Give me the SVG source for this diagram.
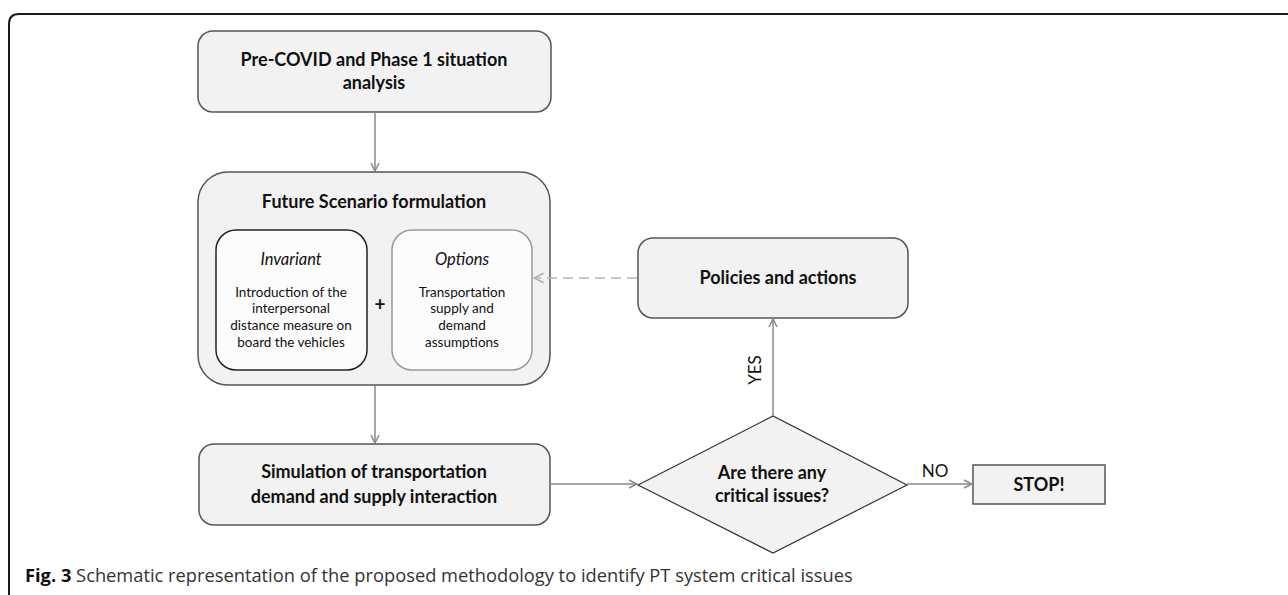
<svg xmlns="http://www.w3.org/2000/svg" width="1288" height="595" viewBox="0 0 1288 595">
  <defs>
    <marker id="arr" viewBox="0 0 10 10" refX="9" refY="5" markerWidth="10" markerHeight="10" markerUnits="userSpaceOnUse" orient="auto">
      <path d="M1,1 L9,5 L1,9" fill="none" stroke="#888" stroke-width="1.5"/>
    </marker>
    <marker id="arrL" viewBox="0 0 10 10" refX="9" refY="5" markerWidth="12" markerHeight="12" markerUnits="userSpaceOnUse" orient="auto">
      <path d="M1,1 L9,5 L1,9" fill="none" stroke="#b0b0b0" stroke-width="1.3"/>
    </marker>
  </defs>
  <style>
    .box { fill: #f2f2f2; stroke: #555; stroke-width: 1.5; }
    .inner { fill: #fcfcfc; stroke-width: 1.5; }
    .t { font-family: Lato, "Liberation Sans", sans-serif; fill: #111; text-anchor: middle; }
    .b { font-weight: bold; font-size: 18px; }
    .i { font-style: italic; font-size: 16.5px; }
    .s { font-size: 13.5px; }
    .lbl { font-size: 17px; }
    .conn { stroke: #888; stroke-width: 1.5; fill: none; marker-end: url(#arr); }
    .dash { stroke: #b8b8b8; stroke-width: 1.5; fill: none; stroke-dasharray: 10 6; marker-end: url(#arrL); }
  </style>
  <rect width="1288" height="595" fill="#fff"/>
  <path d="M9,595 V24 Q9,14 19,14 H1288" fill="none" stroke="#1a1a1a" stroke-width="2"/>

  <g id="precovid">
    <rect class="box" x="198" y="31" width="353" height="81" rx="15"/>
    <text class="t b" x="374" y="66">Pre-COVID and Phase 1 situation</text>
    <text class="t b" x="374" y="89">analysis</text>
  </g>

  <g id="future">
    <rect class="box" x="198" y="172" width="352" height="213" rx="30"/>
    <text class="t b" x="374" y="208">Future Scenario formulation</text>
  </g>

  <g id="invariant">
    <rect class="inner" x="216" y="230" width="151" height="140" rx="20" stroke="#222"/>
    <text class="t i" x="291" y="265">Invariant</text>
    <text class="t s" x="291" y="297">Introduction of the</text>
    <text class="t s" x="291" y="313">interpersonal</text>
    <text class="t s" x="291" y="330">distance measure on</text>
    <text class="t s" x="291" y="347">board the vehicles</text>
  </g>

  <g id="plus">
    <text class="t" x="380" y="311" font-size="19" font-weight="bold">+</text>
  </g>

  <g id="options">
    <rect class="inner" x="392" y="230" width="140" height="140" rx="20" stroke="#999"/>
    <text class="t i" x="462" y="265">Options</text>
    <text class="t s" x="462" y="297">Transportation</text>
    <text class="t s" x="462" y="313">supply and</text>
    <text class="t s" x="462" y="330">demand</text>
    <text class="t s" x="462" y="347">assumptions</text>
  </g>

  <g id="policies">
    <rect class="box" x="638" y="238" width="270" height="80" rx="15"/>
    <text class="t b" x="778" y="284">Policies and actions</text>
  </g>

  <g id="simulation">
    <rect class="box" x="199" y="444" width="351" height="81" rx="15"/>
    <text class="t b" x="374" y="478">Simulation of transportation</text>
    <text class="t b" x="374" y="503">demand and supply interaction</text>
  </g>

  <g id="decision">
    <polygon points="638,485 773,416 907,485 773,553" fill="#f2f2f2" stroke="#333" stroke-width="1.2"/>
    <text class="t b" x="772" y="479">Are there any</text>
    <text class="t b" x="772" y="502">critical issues?</text>
  </g>

  <g id="stop">
    <rect class="box" x="973" y="465" width="132" height="39" stroke="#444"/>
    <text class="t b" x="1039" y="491">STOP!</text>
  </g>

  <g id="connectors">
    <line class="conn" x1="375" y1="112" x2="375" y2="171"/>
    <line class="conn" x1="375" y1="386" x2="375" y2="443"/>
    <line class="conn" x1="550" y1="484" x2="637" y2="484"/>
    <line class="conn" x1="773" y1="416" x2="773" y2="319"/>
    <line class="conn" x1="907" y1="484" x2="972" y2="484"/>
    <line class="dash" x1="637" y1="278" x2="534" y2="278"/>
    <text class="t lbl" transform="translate(761,370) rotate(-90)">YES</text>
    <text class="t lbl" x="935" y="477">NO</text>
  </g>

  <text x="25" y="582" font-family="'Open Sans', 'Liberation Sans', sans-serif" font-size="18.3" fill="#333"><tspan font-weight="bold" fill="#111">Fig. 3</tspan> Schematic representation of the proposed methodology to identify PT system critical issues</text>
</svg>
